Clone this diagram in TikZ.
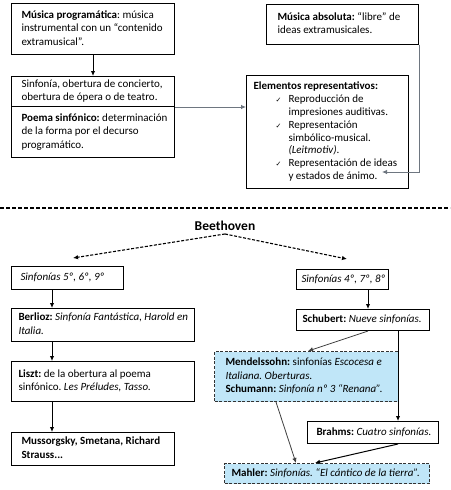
\documentclass[tikz,border=0pt]{standalone}
\usepackage{fontspec}
\setmainfont{Carlito}
\newfontfamily\ckfont{DejaVu Sans}
\usetikzlibrary{arrows.meta,positioning,calc}
\definecolor{lblue}{RGB}{192,230,248}
\definecolor{lgray}{RGB}{110,118,128}
\newcommand\ck{\makebox[13pt][l]{{\ckfont\fontsize{7}{8}\selectfont ✓}}}
\newcommand\tb[2]{\makebox[#1][l]{\begin{tabular}{@{}l@{}}#2\end{tabular}}}
\frenchspacing
\begin{document}
\begin{tikzpicture}[x=1pt,y=-1pt,
  every node/.style={font=\fontsize{11}{13.4}\selectfont},
  bx/.style={draw=black,line width=1pt,anchor=north west,inner ysep=0pt},
  dbx/.style={bx,draw=black!80,fill=lblue,dash pattern=on 3pt off 1.6pt},
  arr/.style={-{Latex[length=5pt,width=4.5pt]},line width=1pt},
  garr/.style={arr,draw=lgray,line width=0.8pt},
  darr/.style={arr,dash pattern=on 3pt off 1.6pt,line width=1.1pt}]
\useasboundingbox (0,0) rectangle (450,490);
% top part
\node[bx,minimum width=163pt,minimum height=51pt,inner xsep=10pt] (m1) at (11,3)
  {\tb{143pt}{\textbf{Música programática}: música\\instrumental con un “contenido\\extramusical”.}};
\node[bx,minimum width=163pt,minimum height=30pt,inner xsep=10pt] (sinf) at (11,76)
  {\tb{143pt}{Sinfonía, obertura de concierto,\\obertura de ópera o de teatro.}};
\node[bx,minimum width=163pt,minimum height=51pt,inner xsep=10pt] (poema) at (11,106)
  {\tb{143pt}{\textbf{Poema sinfónico:} determinación\\de la forma por el decurso\\programático.}};
\node[bx,minimum width=152pt,minimum height=40pt,inner xsep=11pt] (abs) at (266,4)
  {\tb{130pt}{\textbf{Música absoluta:} “libre” de\\ideas extramusicales.}};
\node[bx,minimum width=162pt,minimum height=113pt,inner xsep=7pt,
  font=\fontsize{11}{12.9}\selectfont] (elem) at (246,75)
  {\tb{148pt}{\textbf{Elementos representativos:}\\
   \hspace*{22pt}\ck Reproducción de\\
   \hspace*{35pt}impresiones auditivas.\\
   \hspace*{22pt}\ck Representación\\
   \hspace*{35pt}simbólico-musical.\\
   \hspace*{35pt}\textit{(Leitmotiv)}.\\
   \hspace*{22pt}\ck Representación de ideas\\
   \hspace*{35pt}y estados de ánimo.}};
\coordinate (tip) at (382,172);
\draw[arr] (m1.south) -- (sinf.north);
\draw[garr] (sinf.south east) -- (sinf.south east -| elem.west);
\draw[garr] (abs.south east) |- (tip);
% separator
\draw[line width=1.1pt,dash pattern=on 4pt off 2pt] (0,208) -- (450,208);
% bottom part
\node[font=\fontsize{13.5}{16}\selectfont\bfseries,inner sep=1pt] (beet) at (225,226) {Beethoven};
\coordinate (bl) at (73,258);
\coordinate (br) at (347,259);
\path (beet.south) ++(0,2) coordinate (bs);
\draw[darr] (bs) -- (bl);
\draw[darr] (bs) -- (br);
\node[bx,minimum width=112pt,minimum height=23pt,inner xsep=9pt] (s5) at (11,266)
  {\tb{94pt}{\textit{Sinfonías 5º, 6º, 9º}}};
\node[bx,minimum width=183pt,minimum height=33pt,inner xsep=7pt] (berl) at (11,308)
  {\tb{169pt}{\textbf{Berlioz:} \textit{Sinfonía Fantástica, Harold en}\\\textit{Italia.}}};
\node[bx,minimum width=183pt,minimum height=40pt,inner xsep=7pt] (liszt) at (11,361)
  {\tb{169pt}{\textbf{Liszt:} de la obertura al poema\\sinfónico. \textit{Les Préludes, Tasso.}}};
\node[bx,minimum width=163pt,minimum height=33pt,inner xsep=10pt] (muss) at (11,432)
  {\tb{143pt}{\textbf{Mussorgsky, Smetana, Richard}\\\textbf{Strauss...}}};
\draw[arr] ([xshift=41pt]s5.south west) -- ([xshift=41pt]berl.north west);
\draw[arr] ([xshift=41pt]berl.south west) -- ([xshift=41pt]liszt.north west);
\draw[arr] ([xshift=41pt]liszt.south west) -- ([xshift=41pt]muss.north west);
\node[bx,minimum width=92pt,minimum height=20pt,inner xsep=5pt] (s4) at (296,269)
  {\tb{82pt}{\textit{Sinfonías 4º, 7º, 8º}}};
\node[bx,minimum width=133pt,minimum height=21pt,inner xsep=6pt] (schub) at (296,309)
  {\tb{121pt}{\textbf{Schubert:} \textit{Nueve sinfonías.}}};
\node[dbx,minimum width=184pt,minimum height=50pt,inner xsep=11pt] (mend) at (214,351)
  {\tb{162pt}{\textbf{Mendelssohn:} sinfonías \textit{Escocesa e}\\\textit{Italiana. Oberturas.}\\\textbf{Schumann:} \textit{Sinfonía nº 3 “Renana”.}}};
\node[bx,minimum width=131pt,minimum height=22pt,inner xsep=9pt] (brahms) at (307,421)
  {\tb{113pt}{\textbf{Brahms:} \textit{Cuatro sinfonías.}}};
\node[dbx,minimum width=205pt,minimum height=20pt,inner xsep=7pt] (mahler) at (224,463)
  {\tb{191pt}{\textbf{Mahler:} \textit{Sinfonías. “El cántico de la tierra”.}}};
\draw[arr] ([xshift=72pt]s4.south west) -- ([xshift=72pt]schub.north west);
\draw[garr,draw=black!75] ([xshift=72pt]schub.south west) -- ([xshift=94pt]mend.north west);
\draw[arr] ([xshift=102pt]schub.south west) -- ([xshift=91pt]brahms.north west);
\draw[arr] ([xshift=91pt]brahms.south west) -- ([xshift=91pt]mahler.north west);
\draw[garr,draw=black!75] ([xshift=62pt]mend.south west) -- ([xshift=72pt]mahler.north west);
\end{tikzpicture}
\end{document}
